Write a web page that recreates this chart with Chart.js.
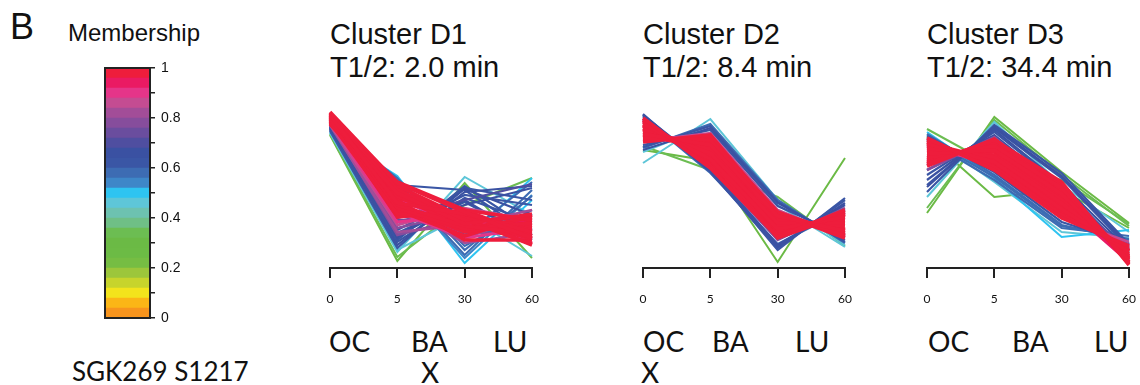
<!DOCTYPE html>
<html>
<head>
<meta charset="utf-8">
<script src="https://cdn.jsdelivr.net/npm/chart.js@4.4.1/dist/chart.umd.min.js"></script>
<style>
  html, body { margin: 0; padding: 0; background: #fff; }
  #fig { position: relative; width: 1140px; height: 385px; overflow: hidden; background: #fff; }
  #fig canvas { position: absolute; }
  .t { position: absolute; white-space: nowrap; line-height: 1; color: #111; }
  .arial { font-family: "Liberation Sans", Arial, sans-serif; }
  .cal { font-family: Lato, "Open Sans", sans-serif; }
</style>
</head>
<body>
<div id="fig"></div>
<script>
// ---- labels ----
const panelLetter = 'B';
const legendTitle = 'Membership';
const timeLabels = ['0', '5', '30', '60'];
const tissueLabels = ['OC', 'BA', 'LU'];
const clusterNames = ['Cluster D1', 'Cluster D2', 'Cluster D3'];
const halfLives = ['2.0', '8.4', '34.4'];
const siteLabel = 'SGK269 S1217';
// which tissue carries an "X" under it, per cluster (-1 = none)
const markedTissue = [1, 0, -1];

// ---- membership colour scale, bottom (0) to top (1) ----
const bandStep = 0.04;
const bandColors = [
  '#f7941d', '#fbb616', '#f3e41c', '#c7d42c', '#9cc63b',
  '#76bd43', '#6cbb45', '#6bba45', '#6cbd52', '#6fbf86',
  '#6dc2b0', '#5ec6d8', '#2ec4f1', '#3e87c8', '#3d6cb3',
  '#3a56a5', '#3a51a2', '#4f4ea0', '#6a4d9e', '#864d9c',
  '#a24d98', '#c44c92', '#e53589', '#ea1a63', '#ee1d3c'
];

// ---- standardized expression profiles at 0, 5, 30, 60 min ----
const d1Values = [
  [1.10, -1.42, 0.14, -1.36], [1.12, -1.34, -0.30, 0.24], [1.14, 0.28, -1.46, -0.20],
  [1.16, -1.24, 0.26, -0.50], [1.14, -1.20, -0.50, -1.32], [1.18, 0.24, -1.00, 0.24],
  [1.22, 0.10, 0.00, -0.90], [1.20, -1.00, 0.08, -0.80], [1.24, -1.10, -0.04, 0.08],
  [1.26, 0.24, -1.20, -0.12], [1.22, -0.92, -0.20, -1.00], [1.28, -0.80, -0.10, -0.30],
  [1.24, 0.16, -1.30, 0.00], [1.18, -1.16, 0.04, -0.20], [1.26, -0.70, -0.30, 0.04],
  [1.28, 0.04, -0.90, 0.16], [1.24, -1.04, -0.16, -0.64], [1.26, -0.86, -0.24, -0.96],
  [1.22, 0.20, -1.12, -0.40], [1.28, -0.96, 0.02, -0.50], [1.20, 0.12, -1.36, -0.10],
  [1.30, -0.56, -0.20, 0.12],
  [1.32, -0.60, -0.60, -0.70], [1.30, -0.76, -0.44, -1.00], [1.34, -0.04, -0.96, -0.50],
  [1.30, -0.84, -0.70, -0.40], [1.36, -0.50, -0.84, -0.90], [1.32, -0.70, -0.36, -0.60],
  [1.34, -0.90, -0.56, -0.70], [1.32, -0.30, -1.06, -0.86],
  [1.38, -0.20, -0.70, -0.80], [1.36, -0.64, -0.50, -1.06], [1.40, 0.04, -0.84, -0.60],
  [1.34, -0.44, -0.96, -0.76],
  [1.56, 0.14, -0.44, -0.96], [1.54, 0.00, -0.60, -1.08], [1.52, -0.12, -0.76, -0.56],
  [1.50, -0.26, -0.48, -0.84], [1.48, -0.40, -0.92, -0.50], [1.46, 0.08, -0.56, -0.72],
  [1.44, -0.54, -0.40, -0.92], [1.42, -0.20, -1.00, -1.00], [1.40, -0.06, -0.68, -0.48],
  [1.38, -0.34, -0.84, -0.64], [1.36, -0.48, -0.56, -1.10], [1.34, 0.02, -0.78, -0.80],
  [1.32, -0.16, -0.52, -0.76], [1.54, -0.30, -0.72, -0.88], [1.48, 0.16, -0.40, -0.60],
  [1.42, -0.44, -0.64, -0.52], [1.50, -0.08, -0.62, -0.98], [1.46, -0.36, -0.78, -0.66]
];
const d1Membership = [
  0.30, 0.34, 0.50, 0.46, 0.45, 0.49,
  0.62, 0.60, 0.64, 0.58, 0.66, 0.63, 0.56, 0.61, 0.67, 0.59,
  0.60, 0.63, 0.57, 0.65, 0.55, 0.68,
  0.74, 0.78, 0.80, 0.83, 0.76, 0.85, 0.79, 0.82,
  0.89, 0.91, 0.93, 0.90,
  0.99, 0.98, 0.97, 0.99, 0.96, 0.98, 0.97, 0.96, 0.99, 0.97, 0.98, 0.96, 0.97, 0.99, 0.98, 0.97,
  0.98, 0.99
];

const d2Values = [
  [0.80, 0.58, -1.44, 0.64], [0.88, 0.40, -0.14, -1.12], [0.54, 1.42, -0.20, -1.10],
  [0.76, 1.30, -0.30, -1.14],
  [1.52, 0.36, -1.16, -0.20], [1.48, 0.40, -1.20, -0.16], [1.50, 0.44, -1.10, -0.30],
  [0.84, 1.32, -0.20, -1.06], [0.80, 1.24, -0.26, -1.00], [0.90, 1.20, -0.32, -0.92],
  [1.46, 0.34, -1.08, -0.40], [0.86, 1.28, -0.24, -1.04], [1.50, 0.38, -1.14, -0.26],
  [1.40, 0.50, -0.92, -0.44], [1.00, 1.10, -0.44, -0.88], [1.36, 0.54, -0.84, -0.48],
  [1.04, 1.04, -0.50, -0.84], [1.42, 0.46, -1.00, -0.36], [0.98, 1.14, -0.40, -0.94],
  [1.38, 0.52, -0.88, -0.46], [1.06, 1.00, -0.54, -0.80], [1.28, 0.66, -0.76, -0.56],
  [1.14, 0.88, -0.64, -0.68],
  [1.44, 0.44, -0.94, -0.40], [1.40, 0.48, -0.90, -0.44], [1.36, 0.56, -0.84, -0.50],
  [1.32, 0.62, -0.78, -0.54], [1.28, 0.68, -0.72, -0.60], [1.24, 0.74, -0.66, -0.66],
  [1.20, 0.80, -0.60, -0.72], [1.16, 0.86, -0.56, -0.78], [1.12, 0.90, -0.52, -0.82],
  [1.08, 0.96, -0.48, -0.86], [1.04, 1.00, -0.44, -0.92], [1.00, 1.06, -0.46, -0.96],
  [0.96, 1.10, -0.50, -0.90], [1.30, 0.60, -0.96, -0.48], [1.10, 0.82, -0.70, -0.62],
  [1.22, 0.70, -0.58, -0.80]
];
const d2Membership = [
  0.30, 0.34, 0.45, 0.47,
  0.60, 0.62, 0.64, 0.58, 0.66, 0.63, 0.57, 0.61, 0.65,
  0.74, 0.78, 0.81, 0.84, 0.76, 0.86,
  0.89, 0.91, 0.93, 0.90,
  0.99, 0.98, 0.97, 0.99, 0.96, 0.98, 0.97, 0.96, 0.99, 0.97, 0.98, 0.96, 0.97, 0.99, 0.98, 0.97
];

const d3Values = [
  [-0.46, 1.46, 0.36, -0.66], [-0.36, 1.40, 0.30, -0.72], [1.06, -0.14, 0.00, -0.76],
  [1.22, 0.48, 0.20, -0.68], [-0.14, 1.36, 0.10, -0.84], [1.16, 0.24, -0.94, -0.80],
  [1.10, 0.16, -0.84, -0.96],
  [-0.04, 1.30, 0.34, -1.08], [0.10, 1.24, 0.24, -1.16], [0.20, 1.20, 0.12, -1.20],
  [0.40, 1.10, 0.00, -1.24], [1.12, 0.30, -0.70, -1.00], [1.08, 0.36, -0.64, -1.06],
  [1.00, 0.20, -0.76, -0.92], [0.30, 1.16, 0.08, -1.30], [0.06, 1.26, 0.28, -1.12],
  [1.04, 0.26, -0.72, -0.98],
  [0.50, 1.00, -0.10, -1.20], [0.90, 0.50, -0.50, -1.10], [0.60, 0.94, -0.16, -1.36],
  [0.84, 0.56, -0.44, -1.16], [0.40, 1.06, -0.04, -1.40], [0.96, 0.44, -0.56, -1.04],
  [0.54, 0.96, -0.20, -1.30], [0.80, 0.60, -0.40, -1.20], [0.64, 0.86, -0.26, -1.44],
  [0.88, 0.50, -0.48, -1.12],
  [1.04, 0.40, -0.56, -1.12], [1.00, 0.46, -0.50, -1.16], [0.96, 0.50, -0.44, -1.20],
  [0.92, 0.56, -0.38, -1.24], [0.88, 0.62, -0.32, -1.28], [0.84, 0.66, -0.26, -1.32],
  [0.80, 0.70, -0.20, -1.34], [0.76, 0.76, -0.14, -1.38], [0.72, 0.80, -0.08, -1.40],
  [0.68, 0.84, -0.02, -1.44], [0.64, 0.88, 0.04, -1.46], [0.60, 0.92, 0.08, -1.48],
  [0.56, 0.96, 0.12, -1.44], [0.52, 1.00, 0.16, -1.50], [0.48, 1.02, 0.00, -1.36],
  [0.94, 0.60, -0.30, -1.22]
];
const d3Membership = [
  0.30, 0.33, 0.28, 0.35, 0.46, 0.48, 0.44,
  0.60, 0.62, 0.65, 0.67, 0.58, 0.63, 0.56, 0.61, 0.64, 0.59,
  0.74, 0.78, 0.81, 0.84, 0.76, 0.86,
  0.89, 0.91, 0.93, 0.90,
  0.99, 0.98, 0.97, 0.99, 0.96, 0.98, 0.97, 0.96, 0.99, 0.97, 0.98, 0.96, 0.97, 0.99, 0.98, 0.97, 0.96
];

const clusters = [
  { values: d1Values, membership: d1Membership },
  { values: d2Values, membership: d2Membership },
  { values: d3Values, membership: d3Membership }
];

// ---- page layout (pixels) ----
const plotLeft = [330, 643, 927];
const tissueLeft = [[329, 411, 493], [643, 712, 795], [928, 1012, 1094]];

const fig = document.getElementById('fig');

function addText(text, cls, left, top, size) {
  const d = document.createElement('div');
  d.className = 't ' + cls;
  d.style.left = left + 'px';
  d.style.top = top + 'px';
  d.style.fontSize = size + 'px';
  d.textContent = text;
  fig.appendChild(d);
  return d;
}

function addCanvas(left, top, w, h) {
  const c = document.createElement('canvas');
  c.width = w; c.height = h;
  c.style.left = left + 'px';
  c.style.top = top + 'px';
  c.style.width = w + 'px';
  c.style.height = h + 'px';
  fig.appendChild(c);
  return c;
}

function colorFor(m) {
  const i = Math.min(bandColors.length - 1, Math.floor(m / bandStep));
  return bandColors[i];
}

function widthFor(m) {
  if (m >= 0.95) return 3.6;
  if (m >= 0.87) return 3.0;
  if (m >= 0.70) return 2.6;
  if (m >= 0.52) return 2.2;
  return 2.0;
}

// frame around the colour bar
const framePlugin = {
  id: 'frame',
  afterDatasetsDraw(chart) {
    const { ctx, chartArea: a } = chart;
    ctx.save();
    ctx.strokeStyle = '#222';
    ctx.lineWidth = 2;
    ctx.strokeRect(a.left, a.top, a.right - a.left, a.bottom - a.top);
    ctx.restore();
  }
};

// ---- colour bar ----
addText(panelLetter, 'arial', 10, 9, 36);
addText(legendTitle, 'arial', 68, 21, 24);

const cb = addCanvas(95, 55, 100, 275);
new Chart(cb, {
  type: 'bar',
  data: {
    labels: [''],
    datasets: bandColors.map(c => ({
      data: [bandStep], backgroundColor: c, borderWidth: 0,
      barPercentage: 1, categoryPercentage: 1
    }))
  },
  options: {
    responsive: false, animation: false, events: [],
    layout: { padding: { left: 10, top: 13, bottom: 12, right: 0 } },
    plugins: { legend: { display: false }, tooltip: { enabled: false } },
    scales: {
      x: { display: false, stacked: true },
      y: {
        position: 'right', stacked: true, min: 0, max: 1,
        ticks: {
          stepSize: 0.1, padding: 6, color: '#111',
          font: { family: 'Liberation Sans', size: 14 },
          callback: (v, i) => (i % 2 === 0 ? String(Math.round(v * 10) / 10) : '')
        },
        grid: { drawOnChartArea: false, tickLength: 5, color: '#222', lineWidth: 1.5 },
        border: { display: true, color: '#222', width: 2 },
        afterFit(s) { s.width = 45; s.paddingTop = 0; s.paddingBottom = 0; }
      }
    }
  },
  plugins: [framePlugin]
});

addText(siteLabel, 'cal', 72, 358, 26);

// ---- cluster profile plots ----
clusters.forEach((cl, k) => {
  const left = plotLeft[k];
  addText(clusterNames[k], 'arial', left, 20, 29);
  addText('T1/2: ' + halfLives[k] + ' min', 'arial', left, 53, 29);

  const canvas = addCanvas(left - 10, 90, 222, 218);
  const datasets = cl.values.map((v, i) => {
    const m = cl.membership[i];
    return {
      data: v,
      borderColor: colorFor(m),
      borderWidth: widthFor(m),
      pointRadius: 0,
      tension: 0,
      fill: false,
      order: Math.round((1 - m) * 1000)
    };
  });

  new Chart(canvas, {
    type: 'line',
    data: { labels: timeLabels, datasets },
    options: {
      responsive: false, animation: false, events: [],
      layout: { padding: { left: 10, right: 10, top: 10, bottom: 0 } },
      plugins: { legend: { display: false }, tooltip: { enabled: false } },
      scales: {
        x: {
          type: 'category', offset: false,
          grid: { display: true, drawOnChartArea: false, drawTicks: true, tickLength: 10, color: '#222', lineWidth: 2 },
          border: { display: true, color: '#222', width: 2 },
          ticks: { padding: 14, color: '#111', maxRotation: 0, autoSkip: false, font: { family: 'Lato', size: 12 } },
          afterFit(s) { s.height = 40; s.paddingLeft = 0; s.paddingRight = 0; }
        },
        y: { display: false, min: -1.56, max: 1.8 }
      }
    }
  });

  tissueLabels.forEach((t, j) => {
    addText(t, 'cal', tissueLeft[k][j], 327, 28);
    if (markedTissue[k] === j) {
      addText('X', 'cal', tissueLeft[k][j] + (j === 0 ? -2 : 10), 358, 28);
    }
  });
});
</script>
</body>
</html>
